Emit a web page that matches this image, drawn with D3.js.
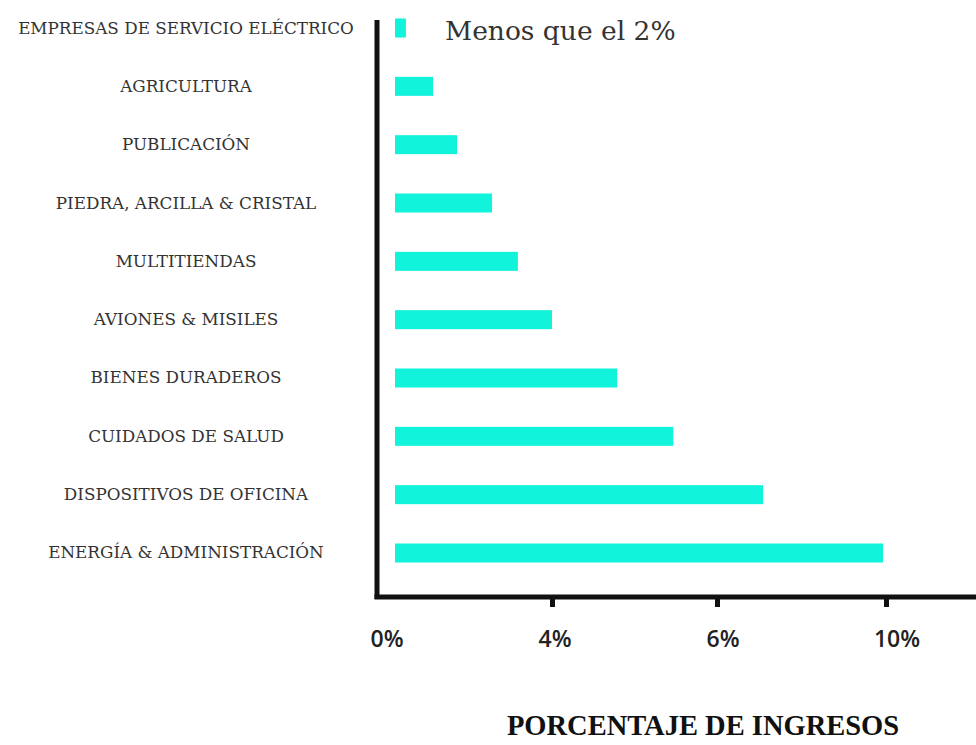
<!DOCTYPE html>
<html>
<head>
<meta charset="utf-8">
<script src="https://cdn.jsdelivr.net/npm/d3@7"></script>
<style>
  html, body { margin: 0; padding: 0; background: #fff; }
  svg { display: block; }
</style>
</head>
<body>
<div id="chart"></div>
<script>
const categories = [
  "EMPRESAS DE SERVICIO ELÉCTRICO",
  "AGRICULTURA",
  "PUBLICACIÓN",
  "PIEDRA, ARCILLA & CRISTAL",
  "MULTITIENDAS",
  "AVIONES & MISILES",
  "BIENES DURADEROS",
  "CUIDADOS DE SALUD",
  "DISPOSITIVOS DE OFICINA",
  "ENERGÍA & ADMINISTRACIÓN"
];
const values = [0.66, 1.28, 1.83, 2.63, 3.22, 4.0, 4.79, 5.47, 7.09, 9.93];
const tickValues = [0, 4, 6, 10];
const tickLabels = ["0%", "4%", "6%", "10%"];
const annotation = "Menos que el 2%";
const xTitle = "PORCENTAJE DE INGRESOS";

const W = 976, H = 745;
const svg = d3.select("#chart").append("svg").attr("width", W).attr("height", H);

// piecewise x scale (ticks are evenly spaced in the original)
const x = d3.scaleLinear().domain(tickValues).range([377, 552, 717, 886]);
const step = 58.33;
const y = d3.scaleBand().domain(categories)
  .range([28 - step / 2, 553 + step / 2])
  .paddingInner(0.674).paddingOuter(0.337);

const barGap = 18;
const axisY = 597;

// bars
svg.append("g").selectAll("rect").data(values).join("rect")
  .attr("x", x(0) + barGap)
  .attr("y", (d, i) => y(categories[i]))
  .attr("width", d => Math.max(0, x(d) - x(0) - barGap))
  .attr("height", y.bandwidth())
  .attr("fill", "#12f3dc");

// category labels
svg.append("g").selectAll("text").data(categories).join("text")
  .attr("x", 186)
  .attr("y", d => y(d) + y.bandwidth() / 2 + 5.5)
  .attr("text-anchor", "middle")
  .attr("font-family", "'DejaVu Serif', serif")
  .attr("font-size", 16.8)
  .attr("fill", "#333")
  .text(d => d);

// y axis line
svg.append("line")
  .attr("x1", x(0)).attr("x2", x(0))
  .attr("y1", 20).attr("y2", axisY + 2)
  .attr("stroke", "#111").attr("stroke-width", 5);

// x axis
const xAxis = d3.axisBottom(x)
  .tickValues(tickValues.slice(1))
  .tickSize(10)
  .tickFormat((d) => tickLabels[tickValues.indexOf(d)]);
const gx = svg.append("g").attr("transform", `translate(0,${axisY})`).call(xAxis);
gx.select(".domain").remove();
gx.selectAll(".tick line").attr("stroke", "#111").attr("stroke-width", 5);
gx.selectAll(".tick text").remove();

svg.append("line")
  .attr("x1", x(0) - 2.5).attr("x2", W)
  .attr("y1", axisY).attr("y2", axisY)
  .attr("stroke", "#111").attr("stroke-width", 5);

// tick labels
svg.append("g").selectAll("text").data(tickValues).join("text")
  .attr("x", (d, i) => x(d) + [10, 3, 6, 11][i])
  .attr("y", 647)
  .attr("text-anchor", "middle")
  .attr("font-family", "'Open Sans', sans-serif")
  .attr("font-weight", 600)
  .attr("font-size", 23)
  .attr("fill", "#222")
  .text((d, i) => tickLabels[i]);

// annotation
svg.append("text")
  .attr("x", 445).attr("y", 40)
  .attr("font-family", "'DejaVu Serif', serif")
  .attr("font-size", 26.5)
  .attr("fill", "#333")
  .text(annotation);

// x title
svg.append("text")
  .attr("x", 703).attr("y", 735)
  .attr("text-anchor", "middle")
  .attr("font-family", "'Liberation Serif', serif")
  .attr("font-weight", "bold")
  .attr("font-size", 28.5)
  .attr("fill", "#111")
  .text(xTitle);
</script>
</body>
</html>
